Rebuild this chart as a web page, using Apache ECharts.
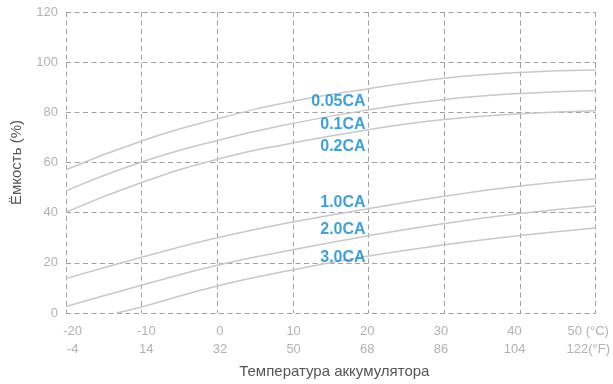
<!DOCTYPE html>
<html>
<head>
<meta charset="utf-8">
<script src="https://cdn.jsdelivr.net/npm/echarts@6/dist/echarts.min.js"></script>
<style>
  html, body { margin: 0; padding: 0; background: #ffffff; }
  #chart { width: 613px; height: 384px; }
</style>
</head>
<body>
<div id="chart"></div>
<script>
// Temperature ticks in °C and their °F equivalents
const tempC = [-20, -10, 0, 10, 20, 30, 40, 50];
const tempF = [-4, 14, 32, 50, 68, 86, 104, 122];

// Discharge rates
const rateNames = ['0.05CA', '0.1CA', '0.2CA', '1.0CA', '2.0CA', '3.0CA'];

// Available capacity (%) at each temperature in tempC
const cap005 = [57.1, 68.6, 77.4, 84.4, 89.4, 93.6, 95.9, 96.9];
const cap01  = [48.7, 60.2, 68.8, 75.6, 81.0, 85.1, 87.5, 88.7];
const cap02  = [40.2, 52.0, 61.3, 67.8, 73.1, 77.1, 79.4, 80.6];
const cap10  = [13.7, 22.2, 30.0, 36.3, 41.6, 46.5, 50.6, 53.5];
const cap20  = [2.6, 11.1, 19.0, 25.2, 30.8, 35.7, 39.7, 42.7];
const cap30  = [null, 2.4, 10.8, 17.2, 22.7, 27.2, 30.9, 33.9];
// The 3.0CA curve only starts where capacity reaches zero
const cap30Start = [-13.3, 0];

// Where each rate caption sits (temperature, capacity)
const captionT = 19.6;
const captionCap = [84.3, 75.3, 66.5, 44.2, 33.2, 22.2];

const FONT = '"Liberation Sans", Arial, Helvetica, sans-serif';
const CURVE = '#c8c8c8';
const GRID = '#a0a0a0';
const TICK = '#b2b2b2';
const TITLE = '#555555';
const CAPTION = '#0e8bd0';

function pairs(values) {
  const out = [];
  values.forEach((v, i) => { if (v !== null) out.push([tempC[i], v]); });
  return out;
}

const curves = [cap005, cap01, cap02, cap10, cap20, cap30].map((vals, i) => {
  const data = pairs(vals);
  if (i === 5) data.unshift(cap30Start);
  return {
    name: rateNames[i],
    type: 'line',
    xAxisIndex: 0,
    data: data,
    smooth: 0.5,
    showSymbol: false,
    silent: true,
    lineStyle: { color: CURVE, width: 1.5 }
  };
});

const captions = {
  type: 'scatter',
  xAxisIndex: 0,
  symbolSize: 0,
  silent: true,
  z: 5,
  data: captionCap.map((c, i) => ({ value: [captionT, c], name: rateNames[i] })),
  label: {
    show: true,
    position: 'left',
    distance: 0,
    formatter: p => p.name,
    color: CAPTION,
    fontFamily: FONT,
    fontWeight: 'bold',
    fontSize: 16
  }
};

const dashed = { show: true, lineStyle: { color: GRID, width: 1, type: [5, 3.5] } };

const chart = echarts.init(document.getElementById('chart'), null, { renderer: 'canvas' });
chart.setOption({
  animation: false,
  backgroundColor: '#ffffff',
  grid: { left: 66, right: 16, top: 12, bottom: 71, containLabel: false },
  xAxis: [
    {
      type: 'value',
      min: -20, max: 50, interval: 10,
      axisLine: { show: false },
      axisTick: { show: false },
      axisLabel: { show: false },
      splitLine: dashed
    },
    {
      // label-only axis carrying the °C / °F tick texts
      type: 'value',
      position: 'bottom',
      offset: 0,
      min: -20.9, max: 51,
      axisLine: { show: false },
      axisTick: { show: false },
      splitLine: { show: false },
      axisLabel: {
        customValues: tempC,
        color: TICK,
        fontFamily: FONT,
        fontSize: 13,
        lineHeight: 18.5,
        margin: 9,
        formatter: v => {
          const i = tempC.indexOf(v);
          if (i < 0) return '';
          const last = i === tempC.length - 1;
          return tempC[i] + (last ? ' (°C)' : '') + '\n' + tempF[i] + (last ? '(°F)' : '');
        }
      },
      name: 'Температура аккумулятора',
      nameLocation: 'middle',
      nameGap: 50,
      nameTextStyle: { color: TITLE, fontFamily: FONT, fontSize: 15, padding: [0, 0, 0, 7] }
    }
  ],
  yAxis: {
    type: 'value',
    min: 0, max: 120, interval: 20,
    axisLine: { show: false },
    axisTick: { show: false },
    axisLabel: { color: TICK, fontFamily: FONT, fontSize: 13, margin: 8 },
    splitLine: dashed,
    name: 'Ёмкость (%)',
    nameLocation: 'middle',
    nameGap: 42,
    nameTextStyle: { color: TITLE, fontFamily: FONT, fontSize: 15 }
  },
  series: curves.concat([captions])
});
</script>
</body>
</html>
